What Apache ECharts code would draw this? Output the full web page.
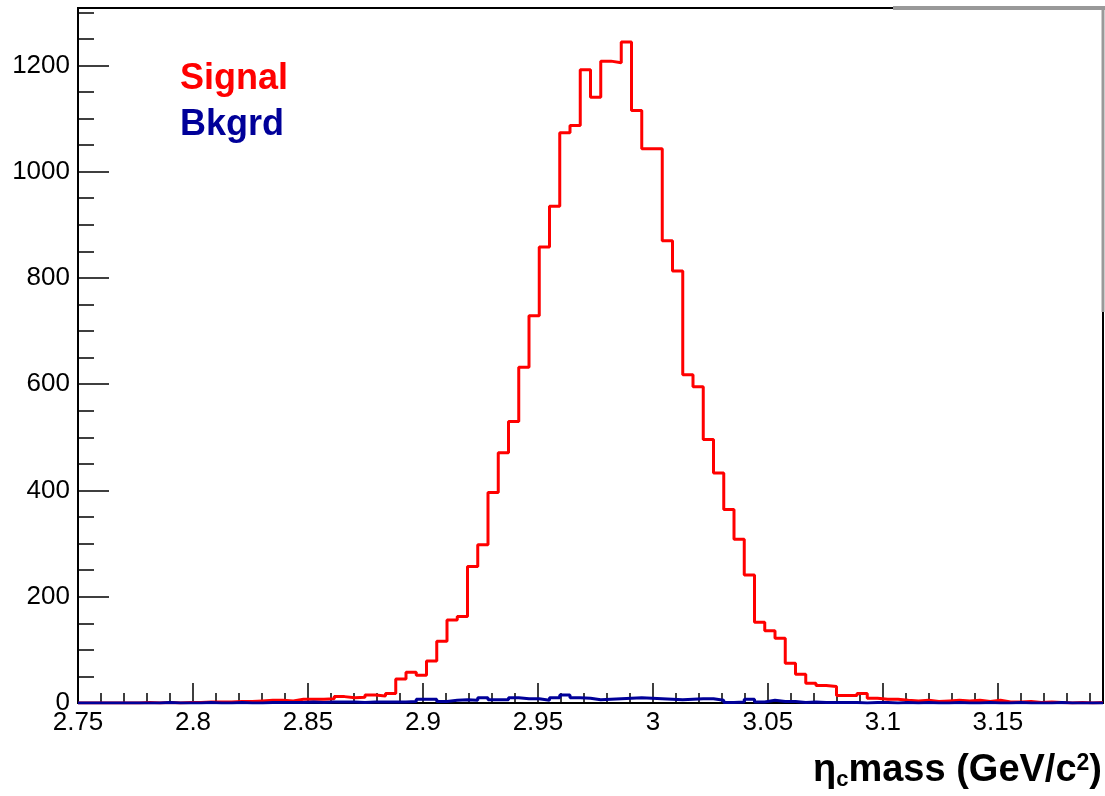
<!DOCTYPE html>
<html><head><meta charset="utf-8">
<script src="https://cdn.jsdelivr.net/npm/echarts@6/dist/echarts.min.js"></script>
<style>html,body{margin:0;padding:0;background:#fff}#c{width:1105px;height:796px}</style>
</head><body><div id="c"></div>
<script>
// Histogram binning (axis range of the frame, 100 bins)
const histMin = 2.75, histMax = 3.1957, nBins = 100;
const yMax = 1308;

const signalCounts = [
  0,0,0,0,0,0,1,0,1,0,
  1,1,2,2,2,3,3,4,5,5,
  4,7,7,7,8,12,10,11,15,13,
  18,45,58,52,79,116,156,163,257,298,
  396,471,530,632,729,858,935,1073,1087,1192,
  1140,1208,1205,1244,1115,1043,1043,870,813,618,
  595,496,433,364,308,241,152,136,122,75,
  54,37,33,31,14,14,18,9,7,7,
  5,4,5,3,4,5,4,5,3,5,
  2,2,3,1,2,1,0,1,0,1
];
const bkgdCounts = [
  0,0,0,0,0,0,0,0,1,0,
  0,0,1,0,0,1,0,0,1,1,
  1,1,2,1,2,2,2,1,2,2,
  2,2,3,7,7,3,5,6,5,10,
  6,6,10,8,8,5,10,15,10,9,
  6,7,8,9,10,9,8,7,6,7,
  8,8,5,1,2,7,2,5,3,3,
  1,2,1,1,1,1,0,1,1,0,
  1,0,1,0,0,1,0,0,1,0,
  0,1,0,0,0,1,0,0,0,0
];
const xTickValues = [2.75, 2.8, 2.85, 2.9, 2.95, 3.0, 3.05, 3.1, 3.15];
const yTickValues = [0, 200, 400, 600, 800, 1000, 1200];
const seriesNames = ['Signal', 'Bkgrd'];
const seriesColors = ['#ff0000', '#000099'];

function stepData(counts) {
  const w = (histMax - histMin) / nBins;
  const pts = counts.map((c, i) => [histMin + i * w, c]);
  pts.push([histMax, counts[counts.length - 1]]);
  return pts;
}
function range(a, b, step) {
  const out = [];
  for (let v = a; v <= b + 1e-9; v += step) out.push(+v.toFixed(4));
  return out;
}
const xMinor = range(2.75, 3.19, 0.01);
const yMinor = range(0, 1300, 50);

const FONT = '"Liberation Sans", Arial, Helvetica, sans-serif';
const chart = echarts.init(document.getElementById('c'), null, {renderer: 'canvas'});

const baseX = {
  type: 'value', min: histMin, max: histMax, gridIndex: 0, position: 'bottom',
  splitLine: {show: false}
};
const baseY = {
  type: 'value', min: 0, max: yMax, gridIndex: 0, position: 'left',
  splitLine: {show: false}
};

chart.setOption({
  animation: false,
  backgroundColor: '#fff',
  grid: {left: 78, right: 2, top: 8, bottom: 93, show: true, borderColor: '#000', borderWidth: 2, backgroundColor: 'transparent'},
  legend: {
    orient: 'vertical', left: 170, top: 56, itemWidth: 0, itemHeight: 0, itemGap: 10,
    icon: 'none', selectedMode: false,
    data: seriesNames.map((n, i) => ({name: n, textStyle: {color: seriesColors[i]}})),
    textStyle: {fontFamily: FONT, fontWeight: 'bold', fontSize: 36}
  },
  xAxis: [
    Object.assign({}, baseX, {
      axisLine: {show: true, onZero: false, lineStyle: {color: '#000', width: 2}},
      axisTick: {show: true, inside: true, length: 20, customValues: xTickValues, lineStyle: {color: '#000', width: 1.5}},
      axisLabel: {show: true, customValues: xTickValues, margin: 7, color: '#000', fontFamily: FONT, fontSize: 26,
        formatter: v => String(parseFloat((+v).toFixed(3)))}
    }),
    Object.assign({}, baseX, {
      axisLine: {show: false, onZero: false},
      axisTick: {show: true, inside: true, length: 10, customValues: xMinor, lineStyle: {color: '#000', width: 1.5}},
      axisLabel: {show: false}
    })
  ],
  yAxis: [
    Object.assign({}, baseY, {
      axisLine: {show: true, onZero: false, lineStyle: {color: '#000', width: 2}},
      axisTick: {show: true, inside: true, length: 31, customValues: yTickValues, lineStyle: {color: '#000', width: 1.5}},
      axisLabel: {show: true, customValues: yTickValues, margin: 8, color: '#000', fontFamily: FONT, fontSize: 26,
        formatter: v => String(v)}
    }),
    Object.assign({}, baseY, {
      axisLine: {show: false, onZero: false},
      axisTick: {show: true, inside: true, length: 16, customValues: yMinor, lineStyle: {color: '#000', width: 1.5}},
      axisLabel: {show: false}
    })
  ],
  series: [
    {name: seriesNames[0], type: 'line', step: 'end', data: stepData(signalCounts), symbol: 'none',
      lineStyle: {color: seriesColors[0], width: 3}, itemStyle: {color: seriesColors[0]}, z: 3, clip: true},
    {name: seriesNames[1], type: 'line', step: 'end', data: stepData(bkgdCounts), symbol: 'none',
      lineStyle: {color: seriesColors[1], width: 3}, itemStyle: {color: seriesColors[1]}, z: 4, clip: true}
  ],
  graphic: [
    {type: 'line', shape: {x1: 893, y1: 8, x2: 1105, y2: 8}, style: {stroke: '#999', lineWidth: 4}, z: 100},
    {type: 'line', shape: {x1: 1103, y1: 6, x2: 1103, y2: 312}, style: {stroke: '#999', lineWidth: 3}, z: 100},
    {type: 'text', right: 3, top: 752, z: 100,
      style: {
        text: '{g|η}{s|c}{b|mass (GeV/c}{p|2}{b|)}',
        rich: {
          g: {fontFamily: FONT, fontSize: 38, fontWeight: 'bold', fill: '#000'},
          s: {fontFamily: FONT, fontSize: 22, fontWeight: 'bold', fill: '#000', padding: [18, 0, 0, 0]},
          b: {fontFamily: FONT, fontSize: 38, fontWeight: 'bold', fill: '#000'},
          p: {fontFamily: FONT, fontSize: 23, fontWeight: 'bold', fill: '#000', padding: [0, 0, 14, 0]}
        }
      }}
  ]
});
</script>
</body></html>
